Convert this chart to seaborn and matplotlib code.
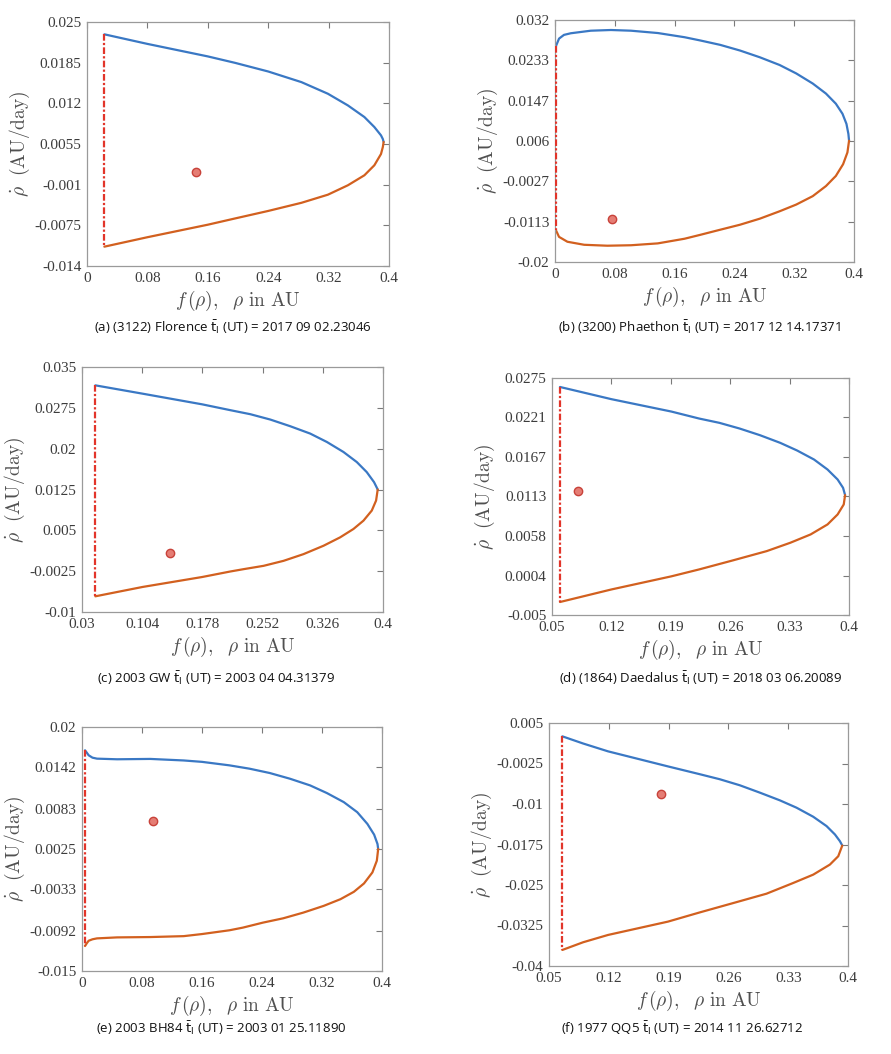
import matplotlib
matplotlib.use("Agg")
import matplotlib.pyplot as plt
import seaborn as sns
import pandas as pd
from matplotlib.ticker import FixedLocator, FixedFormatter

# ---------------- data ----------------
# (a) (3122) Florence
a_up_x = [0.0230, 0.0800, 0.1600, 0.1961, 0.2400, 0.2840, 0.3191, 0.3455, 0.3674, 0.3806, 0.3894, 0.3918, 0.3929]
a_up_y = [0.02303, 0.02150, 0.01950, 0.01847, 0.01709, 0.01539, 0.01353, 0.01167, 0.00981, 0.00821, 0.00688, 0.00630, 0.00582]
a_lo_x = [0.3929, 0.3918, 0.3894, 0.3806, 0.3674, 0.3455, 0.3191, 0.2840, 0.2400, 0.1961, 0.1600, 0.0800, 0.0230]
a_lo_y = [0.00582, 0.00500, 0.00390, 0.00210, 0.00050, -0.00110, -0.00260, -0.00390, -0.00520, -0.00640, -0.00740, -0.00940, -0.01091]
a_bd_x = [0.0230, 0.0230]
a_bd_y = [0.02303, -0.01091]
a_pt = [0.145, 0.0011]
a_xt = [0, 0.08, 0.16, 0.24, 0.32, 0.4]
a_xtl = ["0", "0.08", "0.16", "0.24", "0.32", "0.4"]
a_yt = [-0.014, -0.0075, -0.001, 0.0055, 0.012, 0.0185, 0.025]
a_ytl = ["-0.014", "-0.0075", "-0.001", "0.0055", "0.012", "0.0185", "0.025"]

# (b) (3200) Phaethon
b_up_x = [0.0013, 0.0054, 0.0120, 0.0211, 0.0479, 0.0748, 0.1017, 0.1375, 0.1733, 0.1944, 0.2209,
          0.2475, 0.2740, 0.3005, 0.3227, 0.3448, 0.3625, 0.3757, 0.3846, 0.3899, 0.3925, 0.3934]
b_up_y = [0.02641, 0.02800, 0.02880, 0.02915, 0.02970, 0.02985, 0.02970, 0.02920, 0.02830, 0.02760, 0.02666,
          0.02544, 0.02399, 0.02233, 0.02052, 0.01835, 0.01619, 0.01402, 0.01185, 0.00968, 0.00752, 0.00607]
b_lo_x = [0.3934, 0.3912, 0.3854, 0.3757, 0.3625, 0.3448, 0.3227, 0.3005, 0.2740, 0.2475, 0.2209,
          0.1944, 0.1733, 0.1375, 0.1017, 0.0700, 0.0390, 0.0166, 0.0054, 0.0013]
b_lo_y = [0.00607, 0.00354, 0.00101, -0.00151, -0.00368, -0.00585, -0.00766, -0.00910, -0.01069, -0.01199, -0.01307,
          -0.01416, -0.01500, -0.01600, -0.01640, -0.01650, -0.01630, -0.01565, -0.01460, -0.01319]
b_bd_x = [0.0013, 0.0013]
b_bd_y = [0.02641, -0.01319]
b_pt = [0.0761, -0.01082]
b_xt = [0, 0.08, 0.16, 0.24, 0.32, 0.4]
b_xtl = ["0", "0.08", "0.16", "0.24", "0.32", "0.4"]
b_yt = [-0.02, -0.0113, -0.0027, 0.006, 0.0147, 0.0233, 0.032]
b_ytl = ["-0.02", "-0.0113", "-0.0027", "0.006", "0.0147", "0.0233", "0.032"]

# (c) 2003 GW
c_up_x = [0.0464, 0.1045, 0.1778, 0.2123, 0.2369, 0.2614, 0.2860, 0.3105, 0.3310, 0.3514, 0.3678, 0.3800, 0.3890, 0.3935]
c_up_y = [0.03163, 0.03010, 0.02814, 0.02707, 0.02633, 0.02535, 0.02412, 0.02277, 0.02123, 0.01939, 0.01754, 0.01570, 0.01385, 0.01250]
c_lo_x = [0.3935, 0.3915, 0.3862, 0.3760, 0.3637, 0.3473, 0.3269, 0.3023, 0.2778, 0.2532, 0.2287, 0.2123, 0.1778, 0.1045, 0.0464]
c_lo_y = [0.01250, 0.01047, 0.00863, 0.00678, 0.00525, 0.00371, 0.00217, 0.00063, -0.00060, -0.00152, -0.00213, -0.00256, -0.00357, -0.00540, -0.00712]
c_bd_x = [0.0464, 0.0464]
c_bd_y = [0.03163, -0.00712]
c_pt = [0.1385, 0.0009]
c_xt = [0.03, 0.104, 0.178, 0.252, 0.326, 0.4]
c_xtl = ["0.03", "0.104", "0.178", "0.252", "0.326", "0.4"]
c_yt = [-0.01, -0.0025, 0.005, 0.0125, 0.02, 0.0275, 0.035]
c_ytl = ["-0.01", "-0.0025", "0.005", "0.0125", "0.02", "0.0275", "0.035"]

# (d) (1864) Daedalus
d_up_x = [0.0594, 0.1199, 0.1906, 0.2234, 0.2473, 0.2711, 0.2950, 0.3189, 0.3388, 0.3588, 0.3747, 0.3866, 0.3930, 0.3954]
d_up_y = [0.02627, 0.02460, 0.02290, 0.02194, 0.02135, 0.02057, 0.01966, 0.01861, 0.01756, 0.01632, 0.01495, 0.01358, 0.01244, 0.01144]
d_lo_x = [0.3954, 0.3938, 0.3866, 0.3747, 0.3548, 0.3309, 0.3030, 0.2632, 0.2234, 0.1906, 0.1199, 0.0594]
d_lo_y = [0.01144, 0.01016, 0.00879, 0.00742, 0.00605, 0.00491, 0.00376, 0.00249, 0.00125, 0.00030, -0.00150, -0.00322]
d_bd_x = [0.0594, 0.0594]
d_bd_y = [0.02627, -0.00322]
d_pt = [0.0802, 0.01202]
d_xt = [0.05, 0.12, 0.19, 0.26, 0.33, 0.4]
d_xtl = ["0.05", "0.12", "0.19", "0.26", "0.33", "0.4"]
d_yt = [-0.005, 0.0004, 0.0058, 0.0113, 0.0167, 0.0221, 0.0275]
d_ytl = ["-0.005", "0.0004", "0.0058", "0.0113", "0.0167", "0.0221", "0.0275"]

# (e) 2003 BH84
e_up_x = [0.0040, 0.0065, 0.0089, 0.0140, 0.0200, 0.0467, 0.0911, 0.1356, 0.1600, 0.1965, 0.2234, 0.2503,
          0.2773, 0.3042, 0.3266, 0.3491, 0.3670, 0.3805, 0.3895, 0.3940, 0.3949]
e_up_y = [0.01666, 0.01630, 0.01594, 0.01560, 0.01546, 0.01537, 0.01542, 0.01520, 0.01500, 0.01450, 0.01402, 0.01340,
          0.01258, 0.01162, 0.01052, 0.00922, 0.00778, 0.00610, 0.00456, 0.00322, 0.00250]
e_lo_x = [0.3949, 0.3931, 0.3872, 0.3760, 0.3625, 0.3446, 0.3222, 0.2952, 0.2683, 0.2413, 0.2144, 0.1965,
          0.1600, 0.1356, 0.0911, 0.0467, 0.0200, 0.0140, 0.0089, 0.0065, 0.0040]
e_lo_y = [0.00250, 0.00082, -0.00086, -0.00244, -0.00364, -0.00470, -0.00566, -0.00662, -0.00744, -0.00806, -0.00878, -0.00916,
          -0.00970, -0.01000, -0.01013, -0.01018, -0.01032, -0.01045, -0.01066, -0.01100, -0.01142]
e_bd_x = [0.0040, 0.0040]
e_bd_y = [0.01666, -0.01142]
e_pt = [0.0947, 0.00653]
e_xt = [0, 0.08, 0.16, 0.24, 0.32, 0.4]
e_xtl = ["0", "0.08", "0.16", "0.24", "0.32", "0.4"]
e_yt = [-0.015, -0.0092, -0.0033, 0.0025, 0.0083, 0.0142, 0.02]
e_ytl = ["-0.015", "-0.0092", "-0.0033", "0.0025", "0.0083", "0.0142", "0.02"]

# (f) 1977 QQ5
f_up_x = [0.0656, 0.0900, 0.1191, 0.1893, 0.2264, 0.2498, 0.2733, 0.2967, 0.3202, 0.3397, 0.3593, 0.3749, 0.3847, 0.3905, 0.3933]
f_up_y = [0.00253, 0.00120, -0.00025, -0.00304, -0.00448, -0.00541, -0.00653, -0.00789, -0.00932, -0.01068, -0.01236, -0.01409, -0.01564, -0.01688, -0.01769]
f_lo_x = [0.3933, 0.3886, 0.3788, 0.3593, 0.3358, 0.3046, 0.2655, 0.2264, 0.1893, 0.1191, 0.0900, 0.0656]
f_lo_y = [-0.01769, -0.01967, -0.02122, -0.02308, -0.02463, -0.02661, -0.02835, -0.03008, -0.03178, -0.03425, -0.03560, -0.03703]
f_bd_x = [0.0656, 0.0656]
f_bd_y = [0.00253, -0.03703]
f_pt = [0.1815, -0.00823]
f_xt = [0.05, 0.12, 0.19, 0.26, 0.33, 0.4]
f_xtl = ["0.05", "0.12", "0.19", "0.26", "0.33", "0.4"]
f_yt = [-0.04, -0.0325, -0.025, -0.0175, -0.01, -0.0025, 0.005]
f_ytl = ["-0.04", "-0.0325", "-0.025", "-0.0175", "-0.01", "-0.0025", "0.005"]

captions = [
    r"(a) (3122) Florence $\bar{\mathrm{t}}_{\mathrm{I}}$ (UT) = 2017 09 02.23046",
    r"(b) (3200) Phaethon $\bar{\mathrm{t}}_{\mathrm{I}}$ (UT) = 2017 12 14.17371",
    r"(c) 2003 GW $\bar{\mathrm{t}}_{\mathrm{I}}$ (UT) = 2003 04 04.31379",
    r"(d) (1864) Daedalus $\bar{\mathrm{t}}_{\mathrm{I}}$ (UT) = 2018 03 06.20089",
    r"(e) 2003 BH84 $\bar{\mathrm{t}}_{\mathrm{I}}$ (UT) = 2003 01 25.11890",
    r"(f) 1977 QQ5 $\bar{\mathrm{t}}_{\mathrm{I}}$ (UT) = 2014 11 26.62712",
]

# ---------------- style ----------------
sns.set_style("white")
plt.rcParams["font.family"] = ["Liberation Serif", "DejaVu Serif"]
plt.rcParams["axes.edgecolor"] = "#9a9a9a"
plt.rcParams["axes.linewidth"] = 0.9

BLUE = "#3a78c4"
ORANGE = "#d2601f"
RED = "#e2352a"
TXT = "#3c3c3c"

W, H = 891, 1054
fig = plt.figure(figsize=(W / 100, H / 100), dpi=100)
fig.patch.set_facecolor("white")

# pixel boxes: left, right, top, bottom
boxes = [(87, 389, 22, 266), (555, 854, 20, 262),
         (82, 383, 367, 612), (552, 849, 378, 615),
         (82, 382, 727, 971), (549, 848, 723, 966)]
cap_pos = [(233, 327), (700, 327), (216, 678), (701, 678), (221, 1028), (682, 1028)]

panels = [
    (a_up_x, a_up_y, a_lo_x, a_lo_y, a_bd_x, a_bd_y, a_pt, a_xt, a_xtl, a_yt, a_ytl),
    (b_up_x, b_up_y, b_lo_x, b_lo_y, b_bd_x, b_bd_y, b_pt, b_xt, b_xtl, b_yt, b_ytl),
    (c_up_x, c_up_y, c_lo_x, c_lo_y, c_bd_x, c_bd_y, c_pt, c_xt, c_xtl, c_yt, c_ytl),
    (d_up_x, d_up_y, d_lo_x, d_lo_y, d_bd_x, d_bd_y, d_pt, d_xt, d_xtl, d_yt, d_ytl),
    (e_up_x, e_up_y, e_lo_x, e_lo_y, e_bd_x, e_bd_y, e_pt, e_xt, e_xtl, e_yt, e_ytl),
    (f_up_x, f_up_y, f_lo_x, f_lo_y, f_bd_x, f_bd_y, f_pt, f_xt, f_xtl, f_yt, f_ytl),
]

for i, (ux, uy, lx, ly, bx, by, pt, xt, xtl, yt, ytl) in enumerate(panels):
    l, r, t, b = boxes[i]
    ax = fig.add_axes([l / W, 1 - b / H, (r - l) / W, (b - t) / H])
    up = pd.DataFrame({"x": ux, "y": uy})
    lo = pd.DataFrame({"x": lx, "y": ly})
    bd = pd.DataFrame({"x": bx, "y": by})
    pp = pd.DataFrame({"x": [pt[0]], "y": [pt[1]]})
    sns.lineplot(data=up, x="x", y="y", ax=ax, sort=False, estimator=None, color=BLUE, lw=1.6)
    sns.lineplot(data=lo, x="x", y="y", ax=ax, sort=False, estimator=None, color=ORANGE, lw=1.6)
    sns.lineplot(data=bd, x="x", y="y", ax=ax, sort=False, estimator=None,
                 color=RED, lw=1.6, linestyle=(0, (3, 1, 1, 1)), zorder=4)
    sns.scatterplot(data=pp, x="x", y="y", ax=ax, s=36, color="#e57d74",
                    edgecolor="#c8423a", linewidth=1.0, zorder=5)
    ax.set_xlim(xt[0], xt[-1])
    ax.set_ylim(yt[0], yt[-1])
    ax.xaxis.set_major_locator(FixedLocator(xt))
    ax.xaxis.set_major_formatter(FixedFormatter(xtl))
    ax.yaxis.set_major_locator(FixedLocator(yt))
    ax.yaxis.set_major_formatter(FixedFormatter(ytl))
    ax.tick_params(direction="in", length=4, width=0.8, color="#7a7a7a",
                   top=True, right=True, labelsize=11, labelcolor=TXT, pad=4)
    ax.set_xlabel(r"$f\,(\rho),\ \ \rho\ \mathrm{in\ AU}$", fontsize=14,
                  color="#505050", math_fontfamily="cm")
    ax.set_ylabel(r"$\dot{\rho}\ \ \mathrm{(AU/day)}$", fontsize=14,
                  color="#505050", math_fontfamily="cm")
    wpx, hpx = r - l, b - t
    ax.xaxis.set_label_coords(0.5, -23 / hpx)
    ax.yaxis.set_label_coords(-55 / wpx, 0.5)
    for s in ax.spines.values():
        s.set_visible(True)
        s.set_color("#9a9a9a")
    cx, cy = cap_pos[i]
    fig.text(cx / W, 1 - cy / H, captions[i], ha="center", va="center",
             fontsize=9.5, family=["Open Sans", "DejaVu Sans"], color="#111111",
             math_fontfamily="dejavusans")

fig.savefig("out.png", dpi=100, facecolor="white")
